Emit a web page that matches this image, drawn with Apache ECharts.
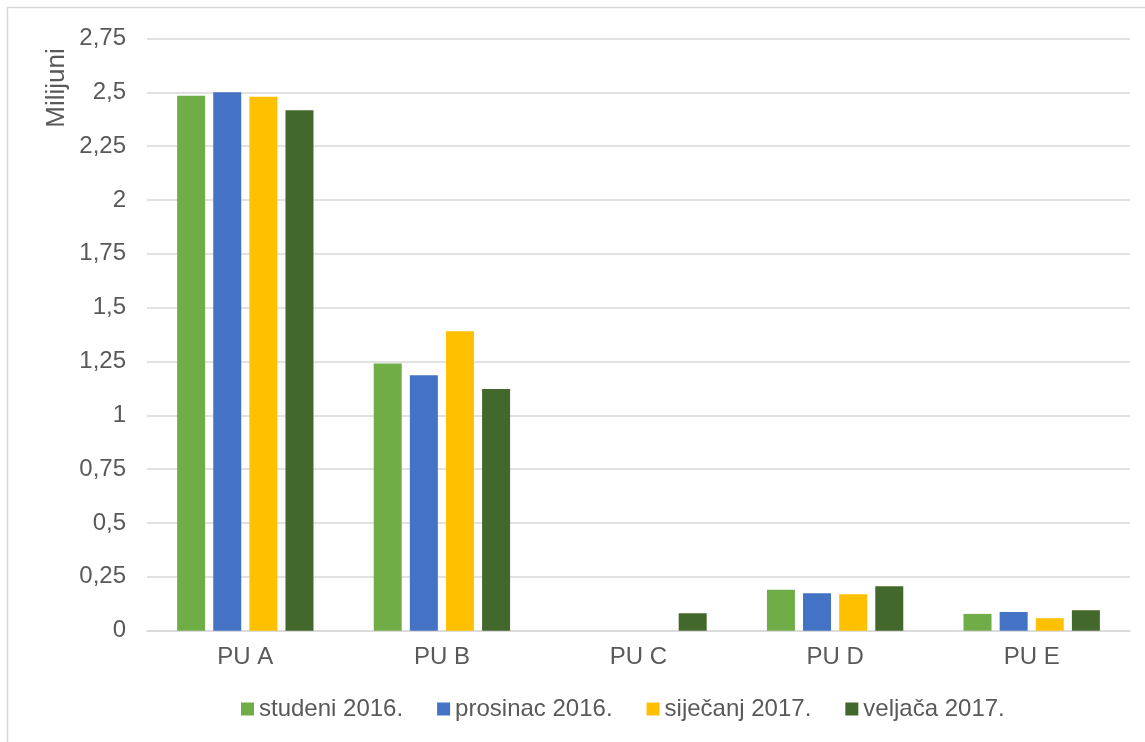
<!DOCTYPE html>
<html>
<head>
<meta charset="utf-8">
<style>
  html, body { margin: 0; padding: 0; background: #fff; }
  #main { width: 1145px; height: 742px; }
</style>
<script src="https://cdn.jsdelivr.net/npm/echarts@6/dist/echarts.min.js"></script>
</head>
<body>
<div id="main"></div>
<script>
// kategorije i vrijednosti (milijuni)
var categories = ['PU A', 'PU B', 'PU C', 'PU D', 'PU E'];
var studeni2016 = [2.484, 1.241, 0, 0.190, 0.078];
var prosinac2016 = [2.500, 1.186, 0, 0.174, 0.087];
var sijecanj2017 = [2.479, 1.391, 0, 0.169, 0.058];
var veljaca2017 = [2.417, 1.122, 0.081, 0.206, 0.095];

var seriesNames = ['studeni 2016.', 'prosinac 2016.', 'siječanj 2017.', 'veljača 2017.'];
var colors = ['#70AD47', '#4472C4', '#FFC000', '#43682B'];
var font = 'Liberation Sans, Arial, sans-serif';
var textColor = '#595959';

function bar(name, data, color) {
    return {
        name: name,
        type: 'bar',
        data: data,
        barWidth: 28,
        barGap: '29%',
        itemStyle: { color: color }
    };
}

var chart = echarts.init(document.getElementById('main'));
chart.setOption({
    animation: false,
    backgroundColor: '#fff',
    grid: { left: 147, right: 15, top: 38.5, bottom: 111.3 },
    legend: {
        data: seriesNames,
        left: 236,
        top: 692,
        itemWidth: 13,
        itemHeight: 13,
        itemGap: 34,
        icon: 'rect',
        textStyle: { color: textColor, fontSize: 24, fontFamily: font }
    },
    xAxis: {
        type: 'category',
        data: categories,
        axisLine: { lineStyle: { color: '#D9D9D9', width: 1.5 } },
        axisTick: { show: false },
        axisLabel: { color: textColor, fontSize: 24, fontFamily: font, margin: 15 }
    },
    yAxis: {
        type: 'value',
        min: 0,
        max: 2.75,
        interval: 0.25,
        axisLine: { show: false },
        axisTick: { show: false },
        splitLine: { lineStyle: { color: '#D9D9D9', width: 1.5 } },
        axisLabel: {
            color: textColor, fontSize: 24, fontFamily: font, margin: 21,
            formatter: function (v) { return String(+v.toFixed(2)).replace('.', ','); }
        }
    },
    graphic: [
        {
            type: 'rect',
            shape: { x: 7.5, y: 7.5, width: 1160, height: 760 },
            style: { fill: null, stroke: '#D9D9D9', lineWidth: 1.5 },
            silent: true
        },
        {
            type: 'text',
            x: 57, y: 88,
            rotation: Math.PI / 2,
            style: {
                text: 'Milijuni',
                fill: textColor,
                fontSize: 26,
                fontFamily: font,
                align: 'center',
                verticalAlign: 'middle'
            }
        }
    ],
    series: [
        bar(seriesNames[0], studeni2016, colors[0]),
        bar(seriesNames[1], prosinac2016, colors[1]),
        bar(seriesNames[2], sijecanj2017, colors[2]),
        bar(seriesNames[3], veljaca2017, colors[3])
    ]
});
</script>
</body>
</html>
